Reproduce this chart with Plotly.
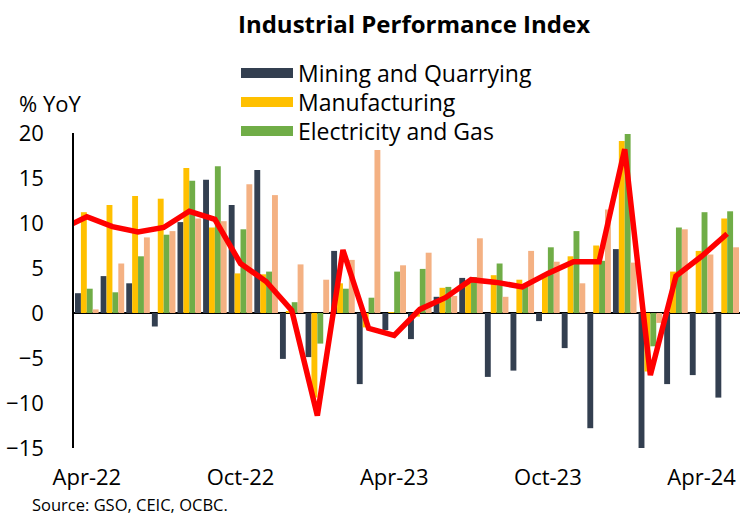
import plotly.graph_objects as go

months = ["Apr-22", "May-22", "Jun-22", "Jul-22", "Aug-22", "Sep-22", "Oct-22", "Nov-22",
          "Dec-22", "Jan-23", "Feb-23", "Mar-23", "Apr-23", "May-23", "Jun-23", "Jul-23",
          "Aug-23", "Sep-23", "Oct-23", "Nov-23", "Dec-23", "Jan-24", "Feb-24", "Mar-24",
          "Apr-24", "May-24"]

mining = [2.2, 4.1, 3.3, -1.5, 10.1, 14.8, 12.0, 15.9, -5.1, -4.9, 6.9, -7.9, -1.9,
          -2.9, 1.8, 3.9, -7.1, -6.4, -0.9, -3.9, -12.8, 7.1, -15.3, -7.9, -6.9, -9.4]
manufacturing = [11.2, 12.0, 13.0, 12.7, 16.1, 9.5, 4.4, 4.3, 0.2, -9.4, 3.3, -1.6, 0.1,
                 -0.4, 2.8, 3.3, 4.2, 3.7, 4.1, 6.3, 7.5, 19.1, -6.5, 4.6, 6.9, 10.5]
electricity = [2.7, 2.3, 6.3, 8.7, 14.7, 16.3, 9.3, 4.6, 1.2, -3.4, 2.7, 1.7, 4.6,
               4.9, 2.9, 4.0, 5.5, 3.0, 7.3, 9.1, 5.8, 19.9, -3.7, 9.5, 11.2, 11.3]
water = [0.4, 5.5, 8.4, 9.1, 10.5, 10.2, 14.3, 13.1, 5.4, 3.7, 5.9, 18.1, 5.3,
         6.7, 1.9, 8.3, 1.8, 6.9, 5.7, 3.3, 11.5, 5.6, -1.1, 9.3, 6.5, 7.3]

# overall index, starting one month earlier (Mar-22), clipped at the axis
total_months = ["Mar-22"] + months
total = [9.3, 10.7, 9.6, 9.0, 9.5, 11.3, 10.4, 5.5, 3.5, 0.3, -11.4, 7.0, -1.7, -2.5,
         0.4, 1.7, 3.7, 3.4, 2.9, 4.4, 5.7, 5.7, 18.2, -6.9, 4.1, 6.3, 8.8]

tick_labels = ["Apr-22", "Oct-22", "Apr-23", "Oct-23", "Apr-24"]
y_ticks = [-15, -10, -5, 0, 5, 10, 15, 20]

FONT = "Open Sans"
C_MIN = "#333F50"
C_MAN = "#FFC000"
C_ELE = "#70AD47"
C_WAT = "#F4B183"
C_TOT = "#FF0000"

xpos = list(range(len(months)))
line_x = [months.index(m) if m in months else -1 for m in total_months]

fig = go.Figure()
for name, vals, col in [("Mining and Quarrying", mining, C_MIN),
                        ("Manufacturing", manufacturing, C_MAN),
                        ("Electricity and Gas", electricity, C_ELE),
                        ("Water Supply", water, C_WAT)]:
    fig.add_trace(go.Bar(x=xpos, y=vals, name=name, marker_color=col,
                         marker_line_width=0, showlegend=False))

fig.add_trace(go.Scatter(x=line_x, y=total, mode="lines", name="Total",
                         line=dict(color=C_TOT, width=5.5), showlegend=False))

# legend entries: one legend per row
legend_rows = [("Mining and Quarrying", C_MIN, "legend", 73),
               ("Manufacturing", C_MAN, "legend2", 102),
               ("Electricity and Gas", C_ELE, "legend3", 131)]
legend_layout = {}
for name, col, lg, ypx in legend_rows:
    fig.add_trace(go.Scatter(x=[None], y=[None], mode="lines", name=name,
                             line=dict(color=col, width=15), showlegend=True, legend=lg))
    legend_layout[lg] = dict(x=236 / 740, xref="container", y=1 - ypx / 515, yref="container",
                             xanchor="left", yanchor="middle", bgcolor="rgba(0,0,0,0)",
                             font=dict(size=23, family=FONT), itemwidth=52)

fig.update_layout(
    width=740, height=515,
    margin=dict(l=74, r=0, t=133, b=67, autoexpand=False),
    paper_bgcolor="white", plot_bgcolor="white",
    barmode="group", bargap=0.08, bargroupgap=0.0,
    font=dict(family=FONT, color="black", size=22),
    title=dict(text="<b>Industrial Performance Index</b>", font=dict(size=24, family=FONT),
               x=0.5105, xref="paper", xanchor="center", y=1 - 25 / 515, yanchor="middle"),
    xaxis=dict(range=[-0.5, len(months) - 0.5], tickmode="array",
               tickvals=[months.index(t) for t in tick_labels], ticktext=tick_labels,
               tickangle=0, showgrid=False, showline=False, zeroline=False, ticks="",
               ticklabelstandoff=14, tickfont=dict(size=22, family=FONT)),
    yaxis=dict(range=[-15, 20], tickmode="array", tickvals=y_ticks,
               showgrid=False, showline=True, linecolor="black", linewidth=1.5,
               zeroline=True, zerolinecolor="black", zerolinewidth=2, ticks="",
               ticklabelstandoff=24, tickfont=dict(size=22, family=FONT)),
    annotations=[
        dict(text="% YoY", xref="paper", yref="paper", x=(17 - 74) / 666, y=(448 - 103) / 315,
             xanchor="left", yanchor="middle", showarrow=False, font=dict(size=22, family=FONT)),
        dict(text="Source: GSO, CEIC, OCBC.", xref="paper", yref="paper", x=(30 - 74) / 666,
             y=(448 - 504.5) / 315, xanchor="left", yanchor="middle", showarrow=False,
             font=dict(size=16.5, family=FONT)),
    ],
    **legend_layout,
)

fig.write_html("out.html", config={"displayModeBar": False},
               post_script="document.body.style.margin='0';document.body.style.overflow='hidden';")
